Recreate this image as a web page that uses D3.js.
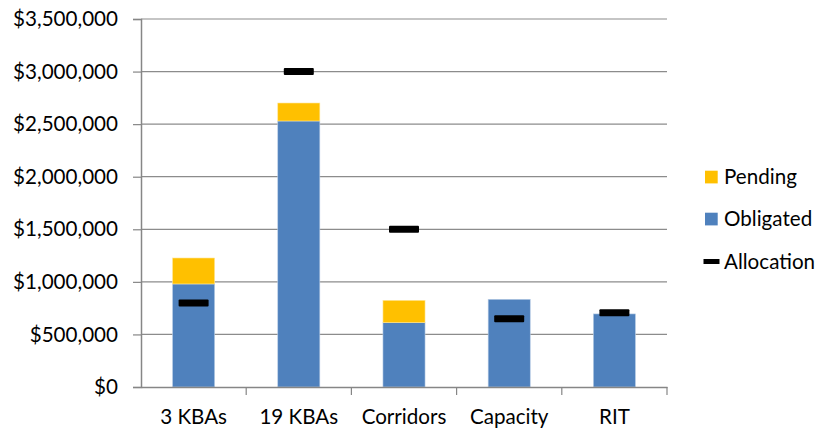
<!DOCTYPE html>
<html><head><meta charset="utf-8">
<script src="https://cdn.jsdelivr.net/npm/d3@7"></script>
<style>body{margin:0;background:#fff}svg{display:block}text{font-family:Lato,"Open Sans",sans-serif;fill:#000}</style>
</head><body><svg id="c" width="822" height="432"></svg>
<script>
const categories = ["3 KBAs","19 KBAs","Corridors","Capacity","RIT"];
const obligated = [980000, 2530000, 612000, 834000, 695000];
const pending = [247000, 171000, 212000, 0, 0];
const allocation = [800000, 3000000, 1500000, 650000, 705000];
const yTicks = [0,500000,1000000,1500000,2000000,2500000,3000000,3500000];
const seriesNames = ["Pending","Obligated","Allocation"];
const colors = {Pending:"#FFC000", Obligated:"#4F81BD", Allocation:"#000"};

const svg = d3.select("#c");
const m = {l:141, r:667, t:19, b:387};
const x = d3.scaleBand().domain(categories).range([m.l, m.r]).paddingInner(0.6).paddingOuter(0.3);
const xb = d3.scaleBand().domain(categories).range([m.l, m.r]);
const y = d3.scaleLinear().domain([0,3500000]).range([m.b, m.t]);
const fmt = d => "$" + d3.format(",")(d);
const FS = "20.6px";

// gridlines
svg.append("g").selectAll("line").data(yTicks.filter(d=>d>0)).join("line")
  .attr("x1", m.l).attr("x2", m.r).attr("y1", d=>y(d)).attr("y2", d=>y(d))
  .attr("stroke","#8c8c8c").attr("stroke-width",1.2);

// y axis
const ya = svg.append("g").attr("transform",`translate(${m.l},0)`)
  .call(d3.axisLeft(y).tickValues(yTicks).tickFormat(fmt).tickSize(8).tickPadding(15));
ya.select(".domain").attr("stroke","#868686").attr("stroke-width",1.5);
ya.selectAll(".tick line").attr("stroke","#868686").attr("stroke-width",1.2);
ya.selectAll("text").attr("font-size",FS).attr("font-family","Lato").attr("fill","#000");

// bars
const stack = categories.map((c,i)=>({c, o:obligated[i], p:pending[i], a:allocation[i]}));
svg.append("g").selectAll("rect").data(stack).join("rect")
  .attr("x", d=>x(d.c)).attr("width", x.bandwidth())
  .attr("y", d=>y(d.o)).attr("height", d=>y(0)-y(d.o))
  .attr("fill", colors.Obligated).attr("stroke","#b9cde5").attr("stroke-width",0.6);
svg.append("g").selectAll("rect").data(stack.filter(d=>d.p>0)).join("rect")
  .attr("x", d=>x(d.c)).attr("width", x.bandwidth())
  .attr("y", d=>y(d.o+d.p)).attr("height", d=>y(d.o)-y(d.o+d.p))
  .attr("fill", colors.Pending).attr("stroke","#ffe699").attr("stroke-width",0.6);

// x axis
const xa = svg.append("g").attr("transform",`translate(0,${m.b})`)
  .call(d3.axisBottom(xb).tickSize(0).tickPadding(22.5));
xa.select(".domain").attr("stroke","#868686").attr("stroke-width",1.5);
xa.selectAll("text").attr("font-size",FS).attr("font-family","Lato").attr("fill","#000");
// category boundary ticks
svg.append("g").selectAll("line").data(categories.map((c)=>xb(c)).concat([m.r]).slice(1)).join("line")
  .attr("x1", d=>d).attr("x2", d=>d).attr("y1", m.b).attr("y2", m.b+8)
  .attr("stroke","#868686").attr("stroke-width",1.2);

// allocation markers
svg.append("g").selectAll("rect").data(stack).join("rect")
  .attr("x", d=>xb(d.c)+xb.bandwidth()/2-15).attr("width",30)
  .attr("y", d=>y(d.a)-3.5).attr("height",7).attr("rx",1)
  .attr("fill", colors.Allocation);

// legend
const lg = svg.append("g");
const ly = [177, 219, 261.5];
seriesNames.forEach((n,i)=>{
  if(n==="Allocation"){
    lg.append("rect").attr("x",703.5).attr("y",ly[i]-2.5).attr("width",16).attr("height",5).attr("fill",colors[n]);
  } else {
    lg.append("rect").attr("x",705).attr("y",ly[i]-6.3).attr("width",12.7).attr("height",12.7).attr("fill",colors[n]);
  }
  lg.append("text").attr("x",724).attr("y",ly[i]).attr("dy","0.35em").attr("font-size",FS).text(n);
});
</script></body></html>
